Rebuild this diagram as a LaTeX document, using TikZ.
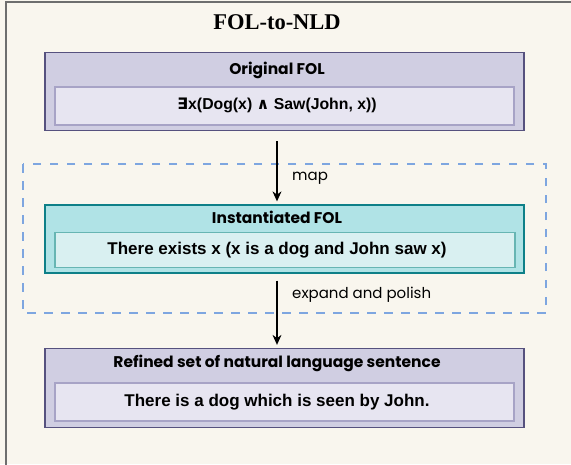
\documentclass[tikz,border=0pt]{standalone}
\usepackage{fontspec}
\setmainfont{Liberation Sans}
\newfontfamily\comic{Poppins}
\newfontfamily\ttlfont{Liberation Serif}
\newfontfamily\symfont{DejaVu Sans}
\usetikzlibrary{arrows.meta,calc}
\definecolor{bgc}{HTML}{F9F6EE}
\definecolor{framec}{HTML}{6E6E6E}
\definecolor{pfill}{HTML}{D0CEE2}
\definecolor{pdraw}{HTML}{56517E}
\definecolor{pinfill}{HTML}{E7E5F1}
\definecolor{pindraw}{HTML}{A7A3C6}
\definecolor{tfill}{HTML}{B0E3E6}
\definecolor{tdraw}{HTML}{0E8088}
\definecolor{tinfill}{HTML}{D9F0F1}
\definecolor{tindraw}{HTML}{67B5B3}
\definecolor{dashc}{HTML}{7EA6E0}
\tikzset{
  outerp/.style={draw=pdraw, fill=pfill, line width=1.3pt, minimum width=479pt, inner sep=0pt},
  innerp/.style={draw=pindraw, fill=pinfill, line width=1.3pt, minimum width=459pt, minimum height=38pt, inner sep=0pt},
  outert/.style={draw=tdraw, fill=tfill, line width=1.3pt, minimum width=479pt, inner sep=0pt},
  innert/.style={draw=tindraw, fill=tinfill, line width=1.3pt, minimum width=460pt, minimum height=35pt, inner sep=0pt},
  lab/.style={font=\comic\bfseries\fontsize{15.5}{17}\selectfont, inner sep=0pt},
  body/.style={font=\bfseries\fontsize{17}{19}\selectfont, inner sep=0pt},
  elab/.style={font=\comic\fontsize{15}{17}\selectfont, inner sep=0pt, anchor=west},
  arr/.style={-{Stealth[length=10pt,width=9pt]}, line width=1.1pt, black},
  dashbox/.style={draw=dashc, line width=2.3pt, dash pattern=on 8.5pt off 8.5pt}
}
\begin{document}
\begin{tikzpicture}[x=1pt,y=-1pt]
\useasboundingbox (0,0) rectangle (571,464);
\clip (0,0) rectangle (571,464);
\fill[bgc] (0,0) rectangle (571,464);
\draw[framec, line width=2pt] (5.5,470) -- (5.5,1.5) -- (580,1.5);

\node[font=\ttlfont\bfseries\fontsize{22.5}{24}\selectfont, inner sep=0pt] (title) at (277,22) {FOL-to-NLD};

% dashed group
\draw[dashbox] (23,164) rectangle (546,313);

% Original FOL
\node[outerp, minimum height=78pt] (orig) at (284.5,91.5) {};
\node[lab] (origlab) at (277,70) {Original FOL};
\node[innerp] (origin) at (284.5,106) {};
\node[body, font=\bfseries\fontsize{15.8}{18}\selectfont] (origtxt) at (277,105.5) {{\symfont ∃}x(Dog(x) {\symfont ∧} Saw(John, x))};

% Instantiated FOL
\node[outert, minimum height=68pt] (inst) at (284.5,239) {};
\node[lab] (instlab) at (277,217) {Instantiated FOL};
\node[innert] (instin) at (285,250) {};
\node[body] (insttxt) at (277,250.5) {There exists x (x is a dog and John saw x)};

% Refined
\node[outerp, minimum height=79pt] (ref) at (284.5,388) {};
\node[lab] (reflab) at (277,363) {Refined set of natural language sentence};
\node[innerp] (refin) at (284.5,402) {};
\node[body] (reftxt) at (277,402) {There is a dog which is seen by John.};

% arrows
\draw[arr, shorten <=10pt, shorten >=3pt] (title |- orig.south) -- (title |- inst.north);
\draw[arr, shorten <=7pt, shorten >=3pt] (title |- inst.south) -- (title |- ref.north);
\node[elab] (maplab) at (292,178) {map};
\node[elab] (explab) at (292,295) {expand and polish};
\end{tikzpicture}
\end{document}
